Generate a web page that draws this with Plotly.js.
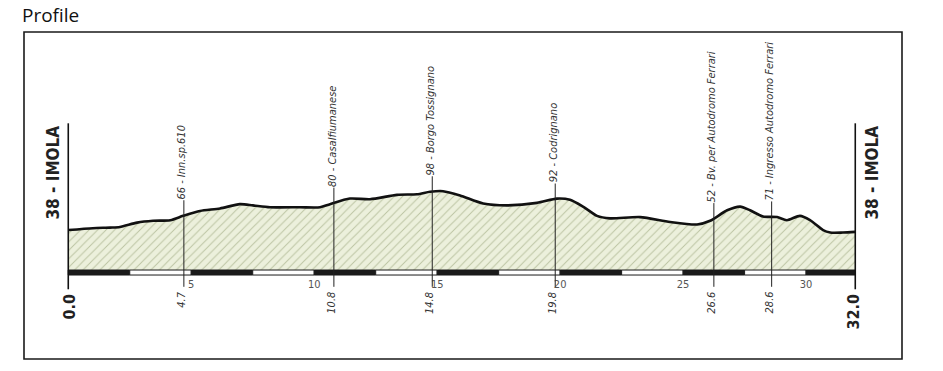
<!DOCTYPE html>
<html>
<head>
<meta charset="utf-8">
<script src="https://cdn.plot.ly/plotly-3.0.1.min.js"></script>
<style>html,body{margin:0;padding:0;background:#fff;}#chart{width:943px;height:371px;}</style>
</head>
<body>
<div id="chart"></div>
<script>
// ---- data ----
const profileKm = [0, 1.0, 1.7, 2.1, 2.8, 3.45, 4.15, 4.67, 5.36, 6.17, 6.98, 7.51, 8.2, 9.42, 10.24, 10.64, 11.45, 12.27, 13.37, 14.18, 14.71, 15.24, 15.93, 16.87, 17.84, 19.06, 19.87, 20.4, 20.93, 21.5, 22.03, 23.25, 24.47, 25.57, 26.1, 26.79, 27.32, 27.72, 28.25, 28.82, 29.22, 29.75, 30.16, 30.69, 30.98, 31.5, 32.0];
const profileElev = [38, 41, 42, 43, 50, 53, 54, 61, 69, 73, 80, 78, 75, 75, 75, 80, 89, 88, 95, 96, 100, 101, 94, 81, 78, 82, 89, 87, 76, 61, 57, 59, 51, 47, 53, 70, 76, 70, 60, 59, 54, 61, 54, 38, 34, 34, 35];

const markerKm = [4.7, 10.8, 14.8, 19.8, 26.25, 28.6];
const markerKmLabel = ['4.7', '10.8', '14.8', '19.8', '26.6', '28.6'];
const markerAlt = [66, 80, 98, 92, 52, 71];
const markerName = ['Inn.sp.610', 'Casalfiumanese', 'Borgo Tossignano', 'Codrignano', 'Bv. per Autodromo Ferrari', 'Ingresso Autodromo Ferrari'];

const endKm = [0, 32];
const endKmLabel = ['0.0', '32.0'];
const endAlt = [38, 38];
const endName = ['IMOLA', 'IMOLA'];

const kmTicks = [5, 10, 15, 20, 25, 30];
const scaleStep = 2.5;

// ---- layout constants (axis units) ----
const Y_RANGE = [-171, 359];
const BASE = -26.8;      // bottom of filled profile
const BAR_BOT = -34.9;   // bottom of km scale bar
const LINE_BOT = -54;    // bottom of marker lines
const END_TOP = 211;     // top of start/finish posts
const END_BOT = -58;
const LABEL_OFF = 25;    // marker label gap above profile

const NARROW = '"Liberation Sans Narrow", "DejaVu Sans Condensed", "Roboto", sans-serif';

function elevAt(k) {
  for (let i = 1; i < profileKm.length; i++) {
    if (k <= profileKm[i]) {
      const t = (k - profileKm[i-1]) / (profileKm[i] - profileKm[i-1]);
      return profileElev[i-1] + t * (profileElev[i] - profileElev[i-1]);
    }
  }
  return profileElev[profileElev.length-1];
}

const traces = [
  {x: [endKm[0], endKm[1]], y: [BASE, BASE], mode: 'lines', line: {width: 0, color: 'rgba(0,0,0,0)'}, hoverinfo: 'skip', showlegend: false},
  {x: profileKm, y: profileElev, mode: 'lines', line: {color: '#111', width: 2.6, shape: 'spline', smoothing: 0.7},
   fill: 'tonexty', fillcolor: '#ebefda',
   fillpattern: {shape: '/', fgcolor: '#bcc4a3', bgcolor: '#ecf0dc', size: 6, solidity: 0.16},
   showlegend: false}
];

const shapes = [];
const annotations = [];

// km scale bar
for (let k = 0; k < endKm[1] - 1e-9; k += scaleStep) {
  const idx = Math.round(k / scaleStep);
  shapes.push({type: 'rect', xref: 'x', yref: 'y', x0: k, x1: Math.min(k + scaleStep, endKm[1]), y0: BAR_BOT, y1: BASE,
    fillcolor: idx % 2 === 0 ? '#1a1a1a' : '#ffffff', line: {color: '#1a1a1a', width: 1}, layer: 'above'});
}

// markers
markerKm.forEach((k, i) => {
  const top = elevAt(k) + LABEL_OFF;
  shapes.push({type: 'line', xref: 'x', yref: 'y', x0: k, x1: k, y0: LINE_BOT, y1: top, line: {color: '#222', width: 1}, layer: 'above'});
  annotations.push({x: k, y: top, xref: 'x', yref: 'y', text: markerAlt[i] + ' - ' + markerName[i], showarrow: false,
    textangle: -90, xanchor: 'center', yanchor: 'bottom', xshift: -2, yshift: -1,
    font: {family: NARROW, size: 11, color: '#333', style: 'italic'}});
  annotations.push({x: k, y: LINE_BOT, xref: 'x', yref: 'y', text: markerKmLabel[i], showarrow: false,
    textangle: -90, xanchor: 'center', yanchor: 'top', xshift: -2, yshift: -3,
    font: {family: NARROW, size: 11, color: '#333', style: 'italic'}});
});

// start / finish posts
endKm.forEach((k, i) => {
  shapes.push({type: 'line', xref: 'x', yref: 'y', x0: k, x1: k, y0: END_BOT, y1: END_TOP, line: {color: '#111', width: 1.6}, layer: 'above'});
  annotations.push({x: k, y: END_TOP, xref: 'x', yref: 'y', text: endAlt[i] + ' - ' + endName[i], showarrow: false,
    textangle: -90, xanchor: i === 0 ? 'right' : 'left', yanchor: 'top', xshift: i === 0 ? -3 : 5,
    font: {family: NARROW, size: 17, color: '#222', weight: 'bold'}});
  annotations.push({x: k, y: END_BOT, xref: 'x', yref: 'y', text: endKmLabel[i], showarrow: false,
    textangle: -90, xanchor: 'center', yanchor: 'top', xshift: i === 0 ? 1 : -2, yshift: -2,
    font: {family: NARROW, size: 16, color: '#222', weight: 'bold'}});
});

// frame
shapes.push({type: 'rect', xref: 'paper', yref: 'paper', x0: 0, x1: 1, y0: 0, y1: 1, line: {color: '#1a1a1a', width: 1.6}, fillcolor: 'rgba(0,0,0,0)'});

const layout = {
  width: 943, height: 371,
  margin: {l: 24, r: 41, t: 32, b: 12},
  paper_bgcolor: '#fff', plot_bgcolor: '#fff',
  title: {text: 'Profile', x: 22/943, xref: 'container', xanchor: 'left', y: 1 - 15/371, yref: 'container', yanchor: 'middle',
    font: {family: '"Open Sans", "Noto Sans", sans-serif', size: 19, color: '#111'}},
  xaxis: {range: [-1.80, 33.90], showgrid: false, zeroline: false, showline: false,
    tickmode: 'array', tickvals: kmTicks, ticktext: kmTicks.map(String), ticks: '',
    anchor: 'free', position: (359 - 276) / 327, ticklabelstandoff: 0,
    tickfont: {family: NARROW, size: 11, color: '#555'}, fixedrange: true},
  yaxis: {range: Y_RANGE, visible: false, fixedrange: true},
  shapes: shapes,
  annotations: annotations,
  showlegend: false
};

Plotly.newPlot('chart', traces, layout, {staticPlot: true, displayModeBar: false});
</script>
</body>
</html>
